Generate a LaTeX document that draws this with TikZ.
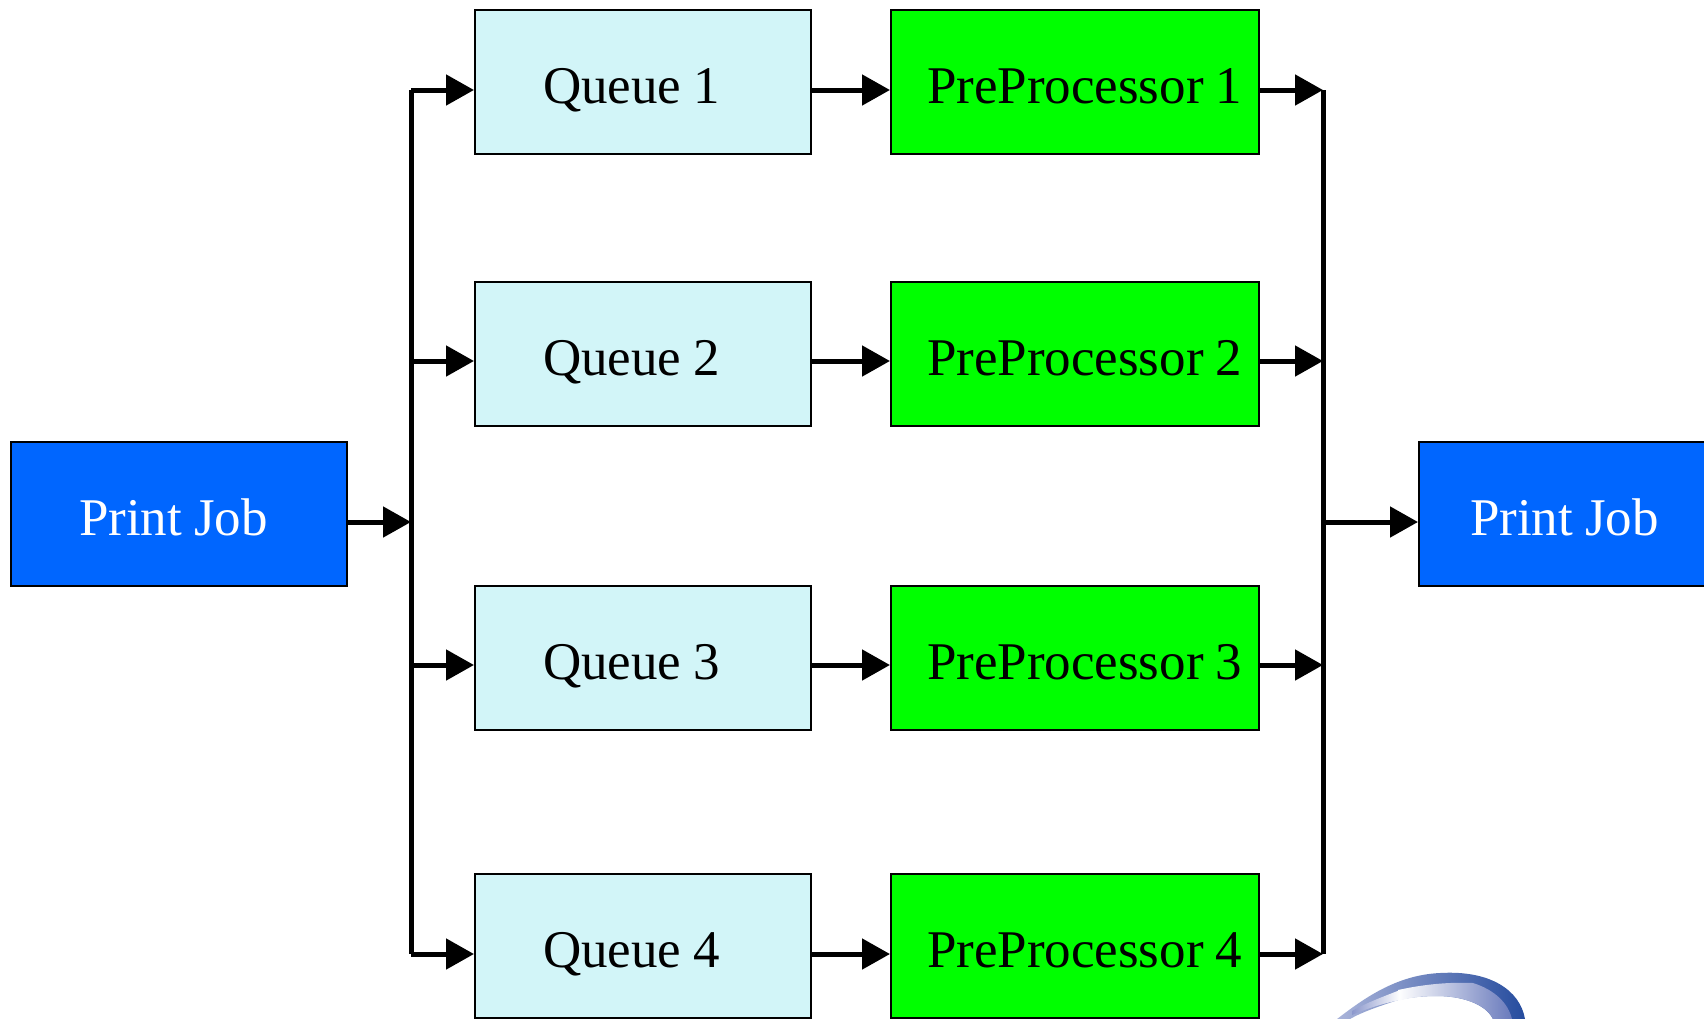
\documentclass[tikz,border=0pt]{standalone}
\usepackage{fontspec}
\setmainfont{Liberation Serif}
\definecolor{jobblue}{RGB}{0,102,255}
\definecolor{queuecyan}{RGB}{210,245,248}
\definecolor{procgreen}{RGB}{0,255,0}
\definecolor{swooshdark}{RGB}{38,76,158}
\definecolor{swooshmid}{RGB}{105,122,188}
\definecolor{swooshpale}{RGB}{170,180,218}
\definecolor{swooshtail}{RGB}{140,152,205}
\usetikzlibrary{arrows.meta}
\tikzset{
  basebox/.style={draw=black,line width=2pt,rectangle,minimum height=144pt,inner ysep=0pt,inner xsep=18pt,
    text height=50pt,text depth=8pt,align=left,font=\fontsize{53}{60}\selectfont},
  labelindent/.style={execute at begin node={\leavevmode\spaceskip=0.225em\relax\kern#1\relax}},
  jobbox/.style={basebox,fill=jobblue,text=white,minimum width=336pt,text width=300pt},
  queuebox/.style={basebox,fill=queuecyan,text=black,minimum width=336pt,text width=300pt,labelindent=50pt},
  procbox/.style={basebox,fill=procgreen,text=black,minimum width=368pt,inner xsep=4pt,text width=360pt,labelindent=32pt},
  conn/.style={line width=5pt,-{Triangle[length=28pt,width=30pt]}},
  bus/.style={line width=5pt},
}
\begin{document}
\begin{tikzpicture}[x=1pt,y=-1pt]
\useasboundingbox (0,0) rectangle (1704,1018);
\clip (0,0) rectangle (1704,1018);
\node[jobbox,labelindent=50pt] (jobin) at (179,514) {Print Job};
\node[jobbox,labelindent=33pt] (jobout) at (1587,514) {Print Job};
\foreach \n/\y/\t in {1/82/1,2/354/2,3/658/3,4/946/4}{
  \node[queuebox] (q\n) at (643,\y) {Queue \t};
  \node[procbox] (p\n) at (1075,\y) {PreProcessor \t};
}
\coordinate (lt) at (411,90);
\coordinate (lb) at (411,954);
\coordinate (l2) at (411,361);
\coordinate (lm) at (411,522);
\coordinate (l3) at (411,665);
\coordinate (rt) at (1323,90);
\coordinate (rb) at (1323,954);
\coordinate (r2) at (1323,361);
\coordinate (rm) at (1323,522);
\coordinate (r3) at (1323,665);
\draw[bus] (lt) -- (lb);
\draw[bus] (rt) -- (rb);
\draw[conn] (jobin.east |- lm) -- (lm);
\draw[conn] (rm) -- (jobout.west |- rm);
\foreach \l/\r/\n in {lt/rt/1,l2/r2/2,l3/r3/3,lb/rb/4}{
  \draw[conn] (\l) -- (\l -| q\n.west);
  \draw[conn] (q\n.east |- \l) -- (p\n.west |- \l);
  \draw[conn] (p\n.east |- \l) -- (\r);
}
% swoosh logo
\shade[left color=swooshpale,middle color=swooshmid,right color=swooshdark]
  (1337,1019) .. controls (1362,1000) and (1395,975) .. (1440,973)
  .. controls (1490,970) and (1520,990) .. (1525,1019)
  -- (1493,1019) .. controls (1485,1003) and (1460,996) .. (1437,996)
  .. controls (1420,996) and (1405,998) .. (1395,1001)
  .. controls (1380,1006) and (1362,1012) .. (1350,1019) -- cycle;
\shade[left color=white,right color=swooshmid]
  (1398,990) .. controls (1425,984) and (1450,982) .. (1473,983)
  .. controls (1495,990) and (1508,1003) .. (1512,1019)
  -- (1493,1019) .. controls (1485,1003) and (1460,996) .. (1437,996)
  .. controls (1420,996) and (1408,998) .. (1398,1001) -- cycle;
\shade[left color=swooshtail,right color=white]
  (1352,1011) .. controls (1368,1002) and (1385,996) .. (1400,990)
  -- (1400,1000) .. controls (1385,1003) and (1368,1008) .. (1352,1015) -- cycle;
\end{tikzpicture}
\end{document}
